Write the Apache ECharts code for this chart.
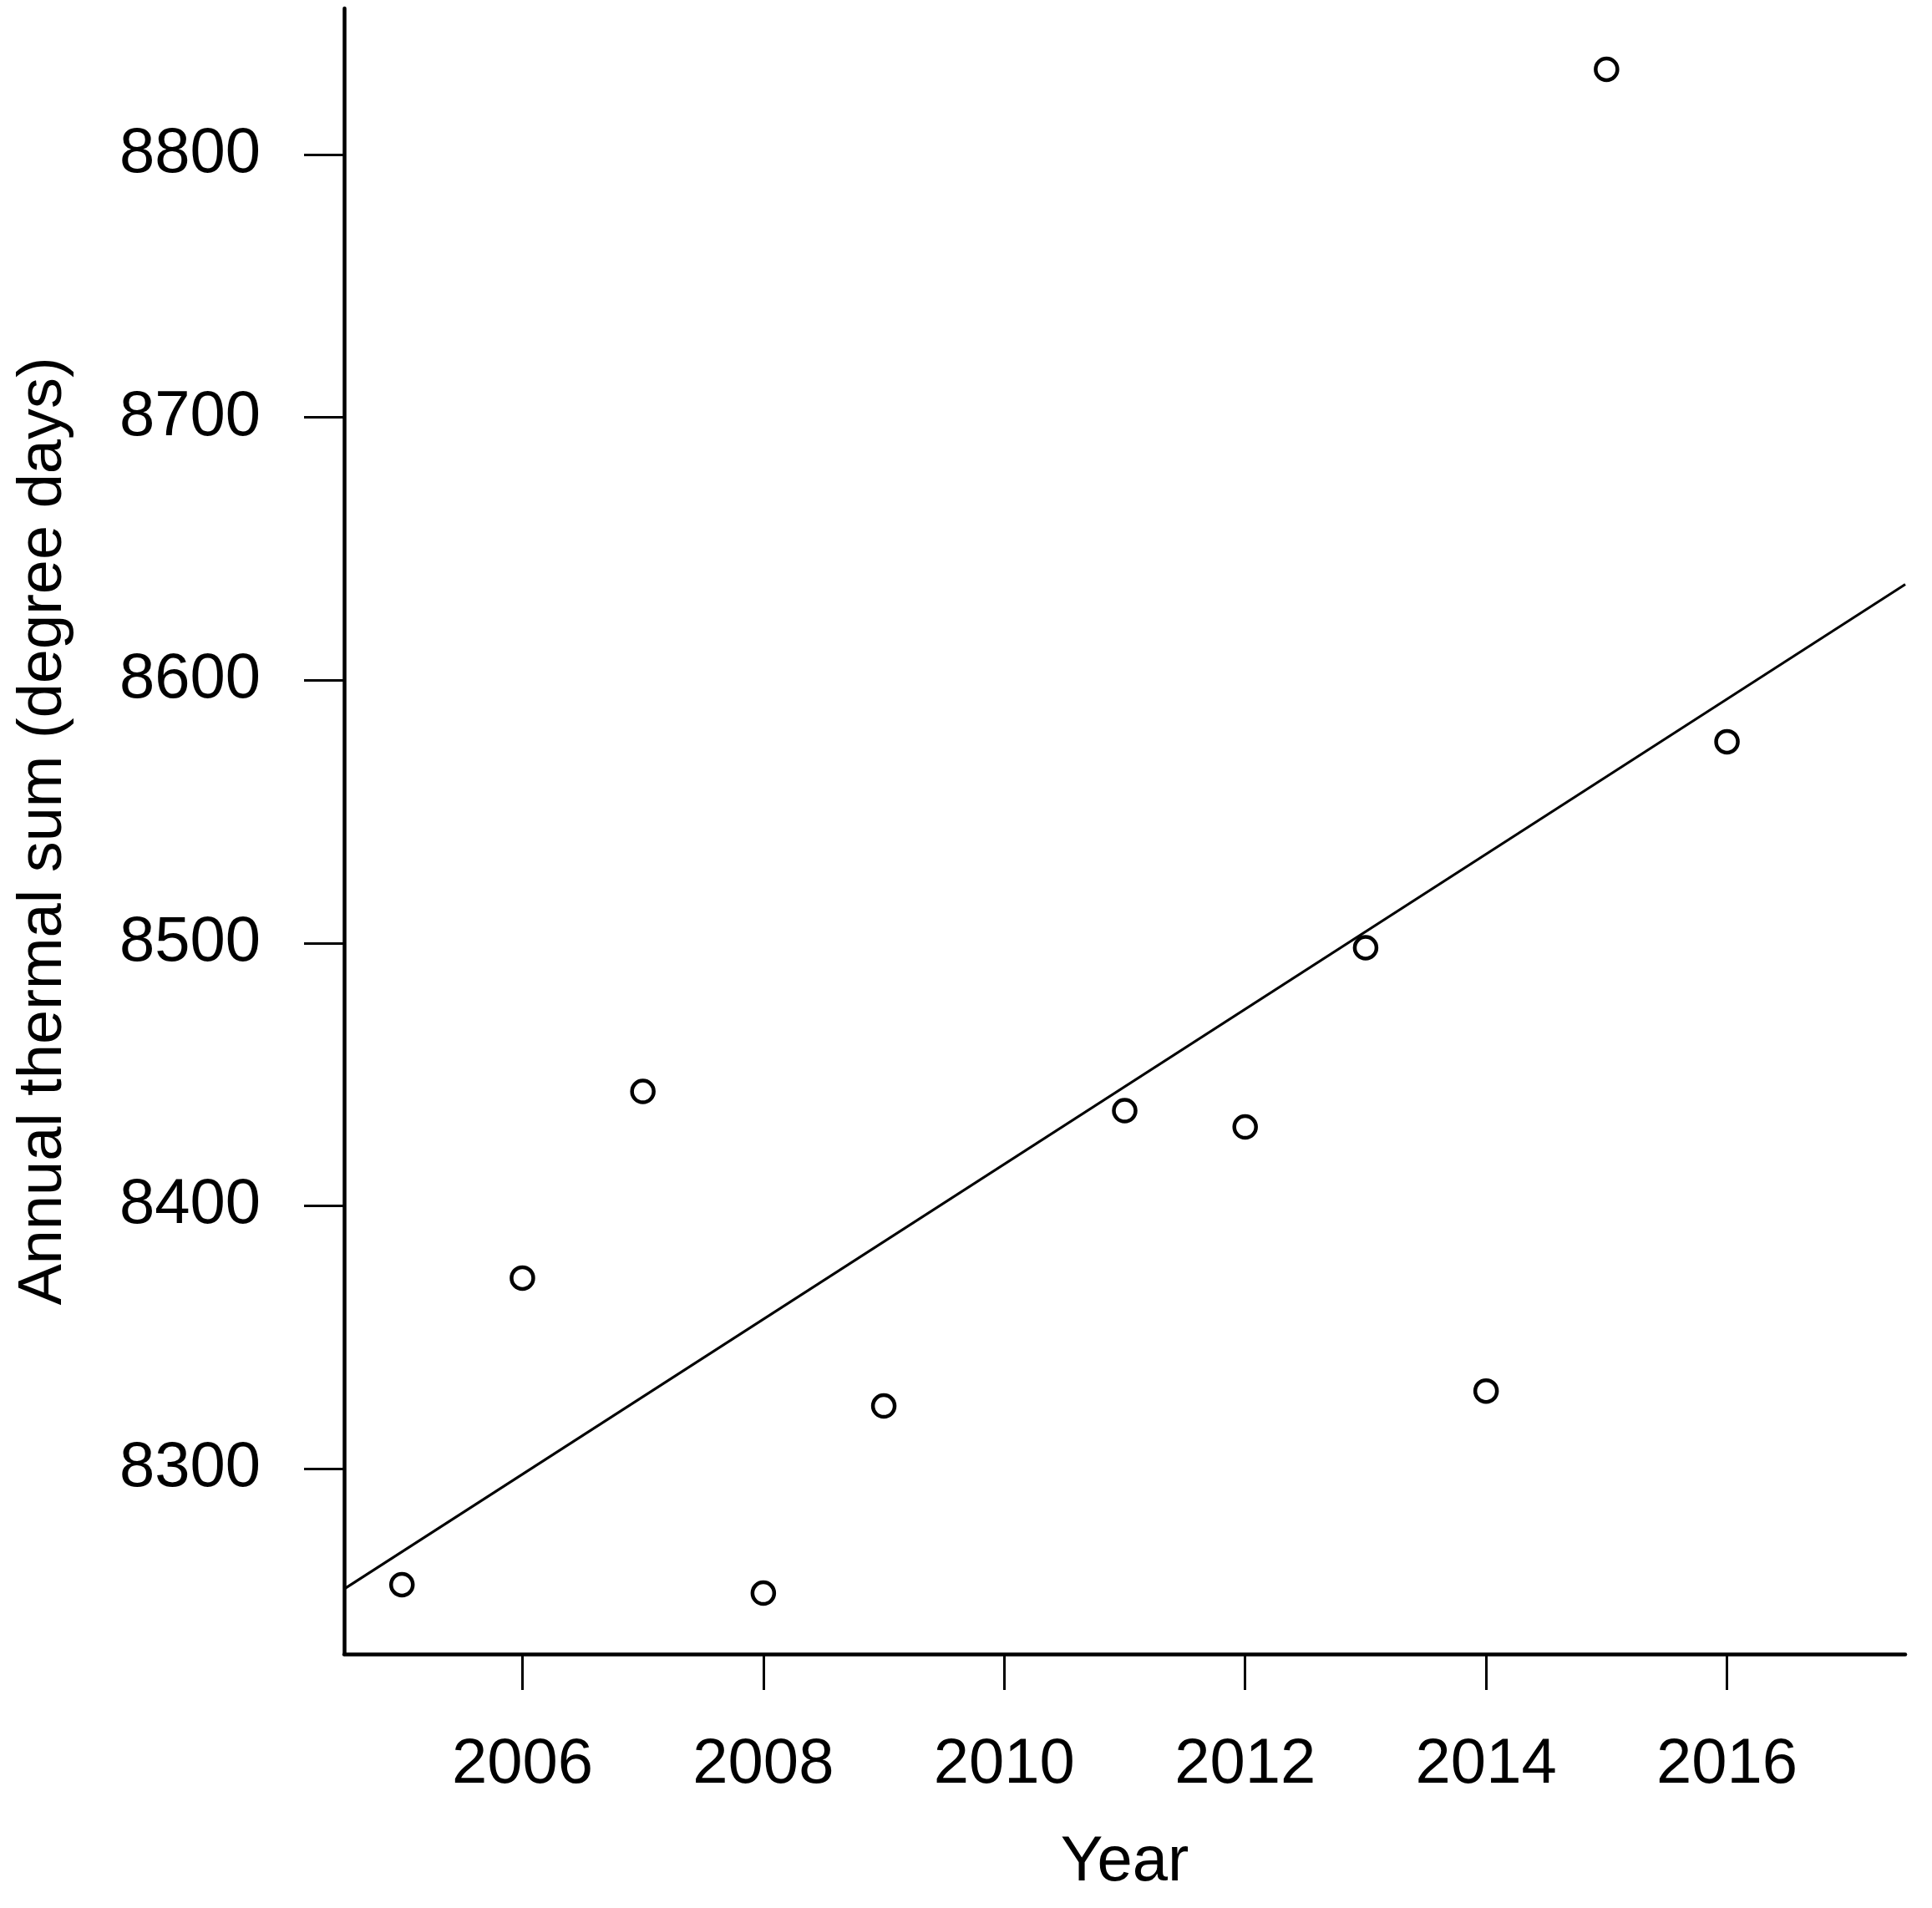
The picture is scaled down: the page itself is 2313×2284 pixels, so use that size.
<!DOCTYPE html>
<html>
<head>
<meta charset="utf-8">
<script src="https://cdn.jsdelivr.net/npm/echarts@6/dist/echarts.min.js"></script>
<style>
  html, body { margin: 0; padding: 0; background: #fff; }
  #chart { width: 2313px; height: 2284px; }
</style>
</head>
<body>
<div id="chart"></div>
<script>
// annual thermal sum per year (2010 missing)
var years = [2005, 2006, 2007, 2008, 2009, 2011, 2012, 2013, 2014, 2015, 2016]
var thermalSum = [8255.8, 8372.5, 8443.5, 8252.6, 8323.8, 8436.2, 8430.0, 8498.2, 8329.5, 8832.5, 8576.6]
var xTicks = [2006, 2008, 2010, 2012, 2014, 2016]
var yTicks = [8300, 8400, 8500, 8600, 8700, 8800]

var font = 'Liberation Sans, Arial, sans-serif'

// least squares fit, drawn across the whole plot like abline()
var n = years.length
var mx = 0, my = 0
for (var i = 0; i < n; i++) { mx += years[i]; my += thermalSum[i] }
mx /= n; my /= n
var sxy = 0, sxx = 0
for (var i = 0; i < n; i++) {
  sxy += (years[i] - mx) * (thermalSum[i] - my)
  sxx += (years[i] - mx) * (years[i] - mx)
}
var slope = sxy / sxx
var intercept = my - slope * mx

// R style axis range: data range padded by 4%
var xMin = 2005 - 0.04 * 12, xMax = 2017 + 0.04 * 12
var lo = Math.min.apply(null, thermalSum), hi = Math.max.apply(null, thermalSum)
var yMin = lo - 0.04 * (hi - lo), yMax = hi + 0.04 * (hi - lo)

var points = years.map(function (y, i) { return [y, thermalSum[i]] })
var fitLine = [[xMin, intercept + slope * xMin], [xMax, intercept + slope * xMax]]

function plain(v) { return String(Math.round(v)) }

var chart = echarts.init(document.getElementById('chart'))
chart.setOption({
  backgroundColor: '#fff',
  animation: false,
  grid: {
    left: 412,
    right: 32,
    top: 10,
    bottom: 304,
    containLabel: false,
    outerBoundsMode: 'none'
  },
  xAxis: {
    type: 'value',
    min: xMin,
    max: xMax,
    name: 'Year',
    nameLocation: 'middle',
    nameGap: 212,
    nameTextStyle: { color: '#000', fontSize: 76, fontFamily: font },
    axisLine: { show: true, onZero: false, lineStyle: { color: '#000', width: 4.5 } },
    axisTick: { show: true, length: 43, lineStyle: { color: '#000', width: 3 }, customValues: xTicks },
    axisLabel: { color: '#000', fontSize: 76, fontFamily: font, margin: 95, customValues: xTicks, formatter: plain },
    splitLine: { show: false }
  },
  yAxis: {
    type: 'value',
    min: yMin,
    max: yMax,
    name: 'Annual thermal sum (degree days)',
    nameLocation: 'middle',
    nameGap: 322,
    nameTextStyle: { color: '#000', fontSize: 74, fontFamily: font },
    axisLine: { show: true, onZero: false, lineStyle: { color: '#000', width: 4.5 } },
    axisTick: { show: true, length: 48, lineStyle: { color: '#000', width: 3 }, customValues: yTicks },
    axisLabel: { color: '#000', fontSize: 76, fontFamily: font, margin: 100, customValues: yTicks, formatter: plain },
    splitLine: { show: false }
  },
  series: [
    {
      type: 'line',
      data: fitLine,
      showSymbol: false,
      silent: true,
      lineStyle: { color: '#000', width: 3 },
      z: 1
    },
    {
      type: 'scatter',
      data: points,
      symbol: 'circle',
      symbolSize: 26,
      itemStyle: { color: 'rgba(0,0,0,0)', borderColor: '#000', borderWidth: 4.5, opacity: 1 },
      z: 2
    }
  ]
})
</script>
</body>
</html>
